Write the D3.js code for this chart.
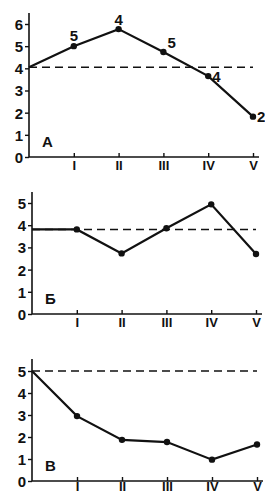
<!DOCTYPE html>
<html>
<head>
<meta charset="utf-8">
<script src="https://cdn.jsdelivr.net/npm/d3@7"></script>
<style>
  body { margin: 0; background: #fff; }
  svg { display: block; }
  .tick text { font-family: "Liberation Sans", Arial, sans-serif; fill: #111; font-weight: bold; }
</style>
</head>
<body>
<div id="vis"></div>
<script>
const WIDTH = 265;
const HEIGHT = 497;

const categories = ["I", "II", "III", "IV", "V"];

// panel A
const startA = 4.05;
const valuesA = [5.0, 5.77, 4.74, 3.65, 1.82];
const meanA = 4.05;
const marksA = ["5", "4", "5", "4", "2"];
const ticksA = [0, 1, 2, 3, 4, 5, 6];

// panel Б
const startB = 3.81;
const valuesB = [3.81, 2.73, 3.86, 4.94, 2.7];
const meanB = 3.81;
const ticksB = [0, 1, 2, 3, 4, 5];

// panel В
const startC = 5.0;
const valuesC = [2.95, 1.87, 1.77, 0.97, 1.66];
const meanC = 5.0;
const ticksC = [0, 1, 2, 3, 4, 5];

const FRAME = d3.select("#vis")
  .append("svg")
    .attr("width", WIDTH)
    .attr("height", HEIGHT);

const INK = "#111";
const FONT = "'Liberation Sans', Arial, sans-serif";

// one panel = one little chart, placed by its pixel box
function panel(p) {
  const X = d3.scaleLinear().domain([0, 5]).range([p.left, p.right]);
  const Y = d3.scaleLinear().domain([0, p.ymax]).range([p.bottom, p.ytop]);
  const g = FRAME.append("g");

  // axes lines
  g.append("line")
    .attr("x1", X(0)).attr("x2", X(0))
    .attr("y1", Y(0)).attr("y2", p.axisTop)
    .attr("stroke", INK).attr("stroke-width", 1.6);
  g.append("line")
    .attr("x1", X(0)).attr("x2", X(5) + 6)
    .attr("y1", Y(0)).attr("y2", Y(0))
    .attr("stroke", INK).attr("stroke-width", 1.6);

  // y ticks
  const yAxis = g.append("g")
    .attr("transform", "translate(" + X(0) + ",0)")
    .call(d3.axisLeft(Y).tickValues(p.ticks).tickFormat(d3.format("d"))
      .tickSize(4).tickSizeOuter(0).tickPadding(2));
  yAxis.select(".domain").remove();
  yAxis.selectAll(".tick line").attr("stroke", INK).attr("stroke-width", 1.4);
  yAxis.selectAll(".tick text").attr("font-size", "15px").attr("dy", "0.36em");

  // x ticks
  const xAxis = g.append("g")
    .attr("transform", "translate(0," + Y(0) + ")")
    .call(d3.axisBottom(X).tickValues([1, 2, 3, 4, 5])
      .tickFormat((d) => categories[d - 1])
      .tickSize(-4).tickSizeOuter(0).tickPadding(p.pad));
  xAxis.select(".domain").remove();
  xAxis.selectAll(".tick line").attr("stroke", INK).attr("stroke-width", 1.4);
  xAxis.selectAll(".tick text").attr("font-size", "13px");

  // dashed level
  g.append("line")
    .attr("x1", X(0)).attr("x2", X(5))
    .attr("y1", Y(p.mean)).attr("y2", Y(p.mean))
    .attr("stroke", INK).attr("stroke-width", 1.5)
    .attr("stroke-dasharray", "8,5");

  // line
  const pts = [[0, p.start]].concat(p.values.map((v, i) => [i + 1, v]));
  g.append("path")
    .datum(pts)
    .attr("fill", "none")
    .attr("stroke", INK)
    .attr("stroke-width", 2.2)
    .attr("d", d3.line().x((d) => X(d[0])).y((d) => Y(d[1])));

  g.selectAll("circle")
    .data(p.values)
    .enter()
    .append("circle")
      .attr("cx", (d, i) => X(i + 1))
      .attr("cy", (d) => Y(d))
      .attr("r", 3.2)
      .attr("fill", INK);

  // panel letter
  g.append("text")
    .attr("x", X(0) + 13)
    .attr("y", Y(0) - 10)
    .attr("font-family", FONT)
    .attr("font-size", "15px")
    .attr("font-weight", "bold")
    .attr("fill", INK)
    .text(p.letter);

  return { g: g, X: X, Y: Y };
}

const A = panel({ left: 29, right: 253, bottom: 157, ytop: 24, ymax: 6, axisTop: 13, pad: 4,
  ticks: ticksA, start: startA, values: valuesA, mean: meanA, letter: "А" });
panel({ left: 32, right: 256, bottom: 314, ytop: 203, ymax: 5, axisTop: 192, pad: 4,
  ticks: ticksB, start: startB, values: valuesB, mean: meanB, letter: "Б" });
panel({ left: 32, right: 257, bottom: 481, ytop: 371, ymax: 5, axisTop: 359, pad: 1,
  ticks: ticksC, start: startC, values: valuesC, mean: meanC, letter: "В" });

// grade marks next to the points of A
const markPos = [[0, -5, "middle"], [0, -4, "middle"], [4, -4, "start"], [4, 6, "start"], [4, 5, "start"]];
A.g.selectAll(".mark")
  .data(marksA)
  .enter()
  .append("text")
    .attr("class", "mark")
    .attr("x", (d, i) => A.X(i + 1) + markPos[i][0])
    .attr("y", (d, i) => A.Y(valuesA[i]) + markPos[i][1])
    .attr("text-anchor", (d, i) => markPos[i][2])
    .attr("font-family", FONT)
    .attr("font-size", "15px")
    .attr("font-weight", "bold")
    .attr("fill", INK)
    .text((d) => d);
</script>
</body>
</html>
